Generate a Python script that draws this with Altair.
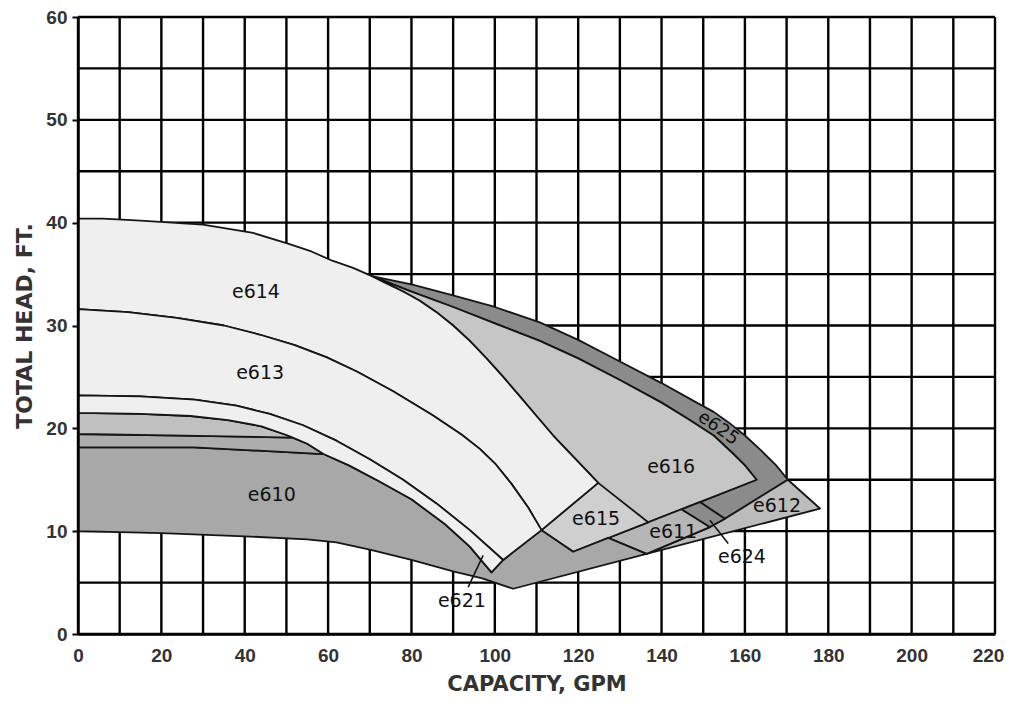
import altair as alt
import pandas as pd

# ---------------- axis / grid values ----------------
GRID_X = list(range(0, 221, 10))
GRID_Y = list(range(0, 61, 5))
X_TICKS = list(range(0, 221, 20))
Y_TICKS = list(range(0, 61, 10))

# ---------------- boundary curves (GPM, FT) ----------------
E614_TOP = [(0, 40.4), (6, 40.4), (15, 40.2), (30, 39.8), (42, 39.0), (50, 38.0),
            (56, 37.2), (61, 36.3), (66, 35.6), (70.5, 34.8)]
E614_RIGHT = [(70.5, 34.8), (74, 34.1), (78, 33.3), (82, 32.4), (86, 31.3), (90, 30.0),
              (94, 28.5), (98, 26.8), (102, 25.0), (106, 23.1), (110, 21.2), (114, 19.3),
              (118, 17.6), (121.5, 16.1), (124.8, 14.7)]
E616_TOP = [(70.5, 34.8), (80, 33.3), (90, 31.8), (100, 30.2), (110.8, 28.5), (120, 26.8),
            (130, 24.7), (140, 22.5), (146, 21.0), (152.5, 19.3), (157, 17.6), (160, 16.4),
            (162.8, 15.0)]
E625_TOP = [(70.5, 34.8), (80, 34.0), (89.3, 33.0), (100, 31.8), (110.8, 30.3), (120, 28.6),
            (130, 26.5), (140, 24.4), (148, 22.6), (152.5, 21.6), (156, 20.6), (160, 19.3),
            (164, 17.8), (167.5, 16.4), (170.3, 15.0)]
E613_TOP = [(0, 31.6), (12, 31.3), (23.7, 30.75), (35, 30.0), (43.7, 29.1), (52, 28.1),
            (59.7, 26.9), (67, 25.5), (75.6, 23.6), (85, 21.3), (92, 19.4), (96.4, 18.0),
            (100, 16.6), (104, 14.6), (108, 12.3), (111.2, 10.1)]
E621_TOP = [(0, 23.2), (15, 23.1), (28, 22.8), (38, 22.2), (46, 21.4), (54, 20.3),
            (62, 18.8), (70, 17.0), (78, 15.0), (86, 12.7), (94, 10.1), (102, 7.2)]
E621_LOW = [(0, 21.5), (15, 21.4), (27, 21.2), (36, 20.8), (44, 20.2), (50, 19.35),
            (51.5, 19.1), (55, 18.5), (58.9, 17.5), (65, 16.4), (72, 14.9), (80, 13.1),
            (88, 10.7), (94, 8.5), (99.2, 6.0)]
E610_BOTTOM = [(0, 10.0), (20, 9.8), (40, 9.5), (55, 9.2), (62, 8.9), (70, 8.2),
               (80, 7.2), (90, 6.1), (97, 5.4), (104.4, 4.4)]
BAND_LINE_19 = [(0, 19.45), (25, 19.3), (51.5, 19.1)]
E610_TOP = [(58.9, 17.5), (27.7, 18.15), (0, 18.15)]

# key corner points
T614 = (124.8, 14.7)
T616 = (162.8, 15.0)
T625 = (170.3, 15.0)
T612 = (178.0, 12.2)
K613 = (111.2, 10.1)
B615 = (118.8, 8.0)
R615 = (136.8, 10.86)
A611 = (127.2, 9.34)
B611 = (144.8, 12.13)
R624 = (151.6, 10.4)
D611 = (136.4, 7.79)
Q624 = (149.2, 12.83)
P624 = (155.2, 11.2)

# label positions
LABELS = ["e614", "e613", "e610", "e615", "e616", "e611", "e612", "e624", "e621"]
LABEL_X = [42.7, 43.7, 46.5, 124.3, 142.3, 142.8, 167.7, 159.3, 92.1]
LABEL_Y = [33.3, 25.4, 13.5, 11.2, 16.2, 9.9, 12.4, 7.5, 3.2]
E625_LABEL = (153.6, 20.0)
PTR_621 = [(93.6, 4.55), (97.2, 7.65)]
PTR_624 = [(151.6, 11.05), (156.0, 8.8)]

rev = lambda pts: list(reversed(pts))

POLYS = [
    ("e625", "#8b8b8b", E625_TOP + [P624, Q624] + rev(E616_TOP)),
    ("e616", "#c6c6c6", E616_TOP + [B615, K613] + rev(E614_RIGHT)),
    ("e612", "#bcbcbc", [T625, T612, D611, R624, P624, T625]),
    ("e611", "#b6b6b6", [A611, B611, R624, D611, A611]),
    ("e624", "#8b8b8b", [B611, Q624, P624, R624, B611]),
    ("e615", "#cfcfcf", [K613, T614, R615, B615, K613]),
    ("e610", "#a8a8a8", E610_BOTTOM + [D611, A611, B615, K613, E621_TOP[-1]]
        + [p for p in rev(E621_LOW) if p[0] >= 58.9] + E610_TOP[1:] + [E610_BOTTOM[0]]),
    ("band2", "#adadad", [(0, 18.15)] + BAND_LINE_19 + [(55, 18.5), (58.9, 17.5)] + E610_TOP[1:]),
    ("band3", "#c0c0c0", [(0, 19.45)] + [p for p in E621_LOW if p[0] <= 51.5] + rev(BAND_LINE_19)),
    ("e614", "#efefef", [(0, 31.6)] + E614_TOP + E614_RIGHT[1:] + rev(E613_TOP)),
    ("e613", "#efefef", E613_TOP + rev(E621_TOP) + [E613_TOP[0]]),
    ("e621", "#efefef", E621_TOP + rev(E621_LOW) + [E621_TOP[0]]),
]

FONT = "Liberation Sans"
TFONT = "DejaVu Sans"
xs = alt.Scale(domain=[0, 220], nice=False, zero=False)
ys = alt.Scale(domain=[0, 60], nice=False, zero=False)

x_axis = alt.Axis(values=X_TICKS, grid=False, ticks=False, domain=True, domainColor="black",
                  domainWidth=2.5, labelFont=FONT, labelFontSize=19, labelFontWeight="bold",
                  labelColor="#333333", labelPadding=12,
                  labelOffset={"condition": {"test": "datum.value == 220", "value": -7}, "value": 0},
                  title="CAPACITY, GPM", titleFont=TFONT,
                  titleFontSize=21, titleFontWeight="bold", titleColor="#333333",
                  titlePadding=8, zindex=1, labelFlush=False)
y_axis = alt.Axis(values=Y_TICKS, grid=False, ticks=True, tickSize=6, tickWidth=2,
                  tickColor="black", domain=True, domainColor="black", domainWidth=2.5,
                  labelFont=FONT, labelFontSize=19, labelFontWeight="bold",
                  labelColor="#333333", labelPadding=5, title="TOTAL HEAD, FT.",
                  titleFont=TFONT, titleFontSize=22, titleFontWeight="bold",
                  titleColor="#333333", titlePadding=9, zindex=1, labelFlush=False)

X = lambda: alt.X("x:Q", scale=xs, axis=x_axis)
Y = lambda: alt.Y("y:Q", scale=ys, axis=y_axis)

grid_v = alt.Chart(pd.DataFrame({"x": GRID_X})).mark_rule(color="black", strokeWidth=2.4).encode(x=X())
grid_h = alt.Chart(pd.DataFrame({"y": GRID_Y})).mark_rule(color="black", strokeWidth=2.4).encode(y=Y())

layers = [grid_v, grid_h]
for name, color, pts in POLYS:
    df = pd.DataFrame({"x": [p[0] for p in pts], "y": [p[1] for p in pts],
                       "i": list(range(len(pts)))})
    layers.append(
        alt.Chart(df).mark_line(fill=color, stroke="#151515", strokeWidth=1.8,
                                strokeJoin="round", interpolate="linear").encode(
            x=X(), y=Y(), order="i:Q"))

for ptr in (PTR_621, PTR_624):
    df = pd.DataFrame({"x": [p[0] for p in ptr], "y": [p[1] for p in ptr], "i": [0, 1]})
    layers.append(alt.Chart(df).mark_line(color="#151515", strokeWidth=1.6).encode(
        x=X(), y=Y(), order="i:Q"))

lab_df = pd.DataFrame({"x": LABEL_X, "y": LABEL_Y, "t": LABELS})
layers.append(alt.Chart(lab_df).mark_text(font=TFONT, fontSize=19, color="#111111").encode(
    x=X(), y=Y(), text="t:N"))
l625 = pd.DataFrame({"x": [E625_LABEL[0]], "y": [E625_LABEL[1]], "t": ["e625"]})
layers.append(alt.Chart(l625).mark_text(font=TFONT, fontSize=18, color="#111111", angle=35).encode(
    x=X(), y=Y(), text="t:N"))

chart = alt.layer(*layers).properties(
    width=917, height=617,
    padding={"left": 70, "top": 9, "right": 9, "bottom": 63},
    autosize=alt.AutoSizeParams(type="none"),
    background="white",
).configure_view(strokeWidth=0)

chart.save("out.html", embed_options={"renderer": "svg", "actions": False})
